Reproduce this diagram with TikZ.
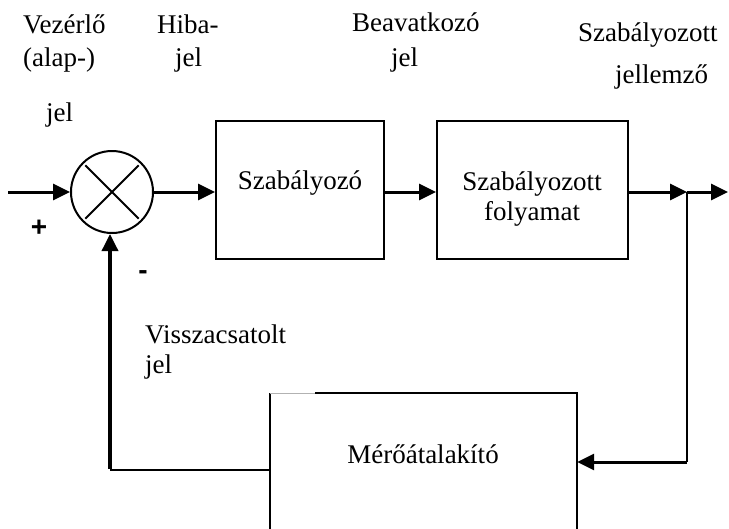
\documentclass[tikz,border=0pt]{standalone}
\usepackage{fontspec}
\setmainfont{Liberation Serif}
\newfontfamily\signfont{Liberation Sans}
\usetikzlibrary{arrows.meta,calc}

\begin{document}
\begin{tikzpicture}[x=1pt,y=-1pt,
  lbl/.style={anchor=base west,inner sep=0pt,font=\fontsize{27}{30}\selectfont},
  txt/.style={anchor=base,inner sep=0pt,font=\fontsize{27}{30}\selectfont},
  sign/.style={anchor=base,inner sep=0pt,font=\signfont\bfseries\fontsize{28}{28}\selectfont},
  blk/.style={draw,line width=2pt,inner sep=0pt},
  tip/.style={-{Triangle[length=17pt,width=16pt]}},
  sig/.style={line width=3pt,tip},
  fb/.style={line width=2.5pt}]

\clip (0,0) rectangle (729,528);
\fill[white] (0,0) rectangle (729,528);

% summing junction
\node[draw,circle,line width=2pt,minimum size=82pt,inner sep=0pt] (sum) at (112,192) {};
\draw[line width=2pt] ($(sum.center)!0.9!(sum.135)$) -- ($(sum.center)!0.9!(sum.-45)$);
\draw[line width=2pt] ($(sum.center)!0.9!(sum.45)$) -- ($(sum.center)!0.9!(sum.-135)$);

% blocks
\node[blk,minimum width=168pt,minimum height=138pt] (ctrl) at (300,190) {};
\node[blk,minimum width=191pt,minimum height=138pt] (plant) at (532.5,190) {};
\node[txt] (ctrltxt) at (300,189) {Szabályozó};
\node[txt] (planttxt1) at (532,190) {Szabályozott};
\node[txt] (planttxt2) at (532,220) {folyamat};

% measuring transducer: open towards the bottom edge
\coordinate (mnw) at (270,393);
\coordinate (mne) at (577,393);
\coordinate (msw) at (270,540);
\coordinate (mse) at (577,540);
\node[inner sep=0pt,minimum width=307pt,minimum height=147pt] (meas) at (423.5,466.5) {};
\draw[line width=2pt] (msw) -- (mnw);
\draw[line width=1pt,gray!60] (mnw) -- (315,393);
\draw[line width=2pt] (315,393) -- (mne) -- (mse);
\node[txt] (meastxt) at (423,463) {Mérőátalakító};

% signal paths
\coordinate (in) at (8,192);
\coordinate (split) at (687,192);
\coordinate (out) at (728,192);
\coordinate (down) at (687,462);
\coordinate (back) at (110,470);

\draw[sig] (in) -- (sum.west);
\draw[sig] (sum.east) -- (ctrl.west |- sum.east);
\draw[sig] (ctrl.east |- sum.east) -- (plant.west |- sum.east);
\draw[sig] (plant.east |- split) -- (split);
\draw[sig] (split) -- (out);
\draw[fb] (split) -- (down);
\draw[fb,line width=3pt,tip] (down) -- (meas.east |- down);
\draw[fb] (meas.west |- back) -- (back);
\draw[line width=3.5pt,tip] ([yshift=1.5pt]back) -- (back |- sum.south);

% signs
\node[sign] (plus) at (39,236) {+};
\node[sign] (minus) at (143,279) {-};

% signal names
\node[lbl] (l1a) at (23,33) {Vezérlő};
\node[lbl] (l1b) at (23,66) {(alap-)};
\node[lbl] (l1c) at (46,121) {jel};
\node[lbl] (l2a) at (157,33) {Hiba-};
\node[lbl] (l2b) at (175,66) {jel};
\node[lbl] (l3a) at (352,31) {Beavatkozó};
\node[lbl] (l3b) at (391,66) {jel};
\node[lbl] (l4a) at (578,41) {Szabályozott};
\node[lbl] (l4b) at (615,83) {jellemző};
\node[lbl] (l5a) at (145,343) {Visszacsatolt};
\node[lbl] (l5b) at (145,373) {jel};
\end{tikzpicture}
\end{document}
